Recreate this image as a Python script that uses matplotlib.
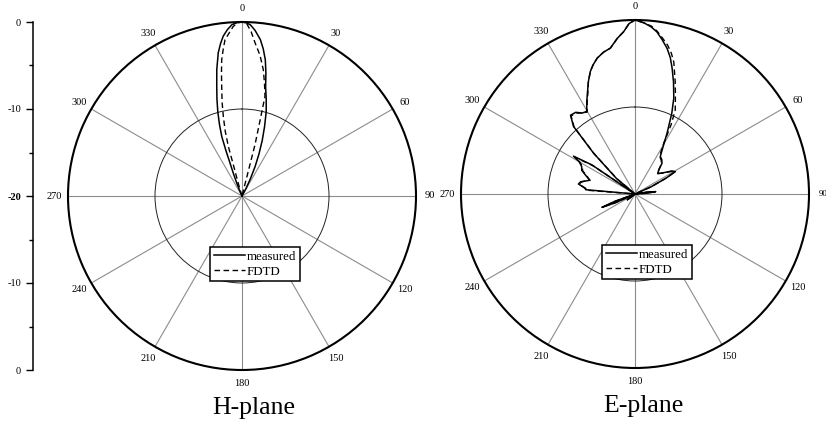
import numpy as np
import matplotlib.pyplot as plt

SERIF = 'Liberation Serif'

# H-plane (angle in degrees, clockwise from top; gain in dB)
h_meas_ang = [-180, -30, -24, -22, -21, -20, -19.5, -18.8, -17.5, -16, -14.5, -13, -11.3,
              -9.4, -8, -6.7, -5, -3.4, -1.5, 0, 1.5, 2.8, 4.5, 6.7, 8.2, 9.7, 11, 12.2,
              14, 16, 18, 20, 22, 24, 26, 28, 32, 180]
h_meas_db = [-20, -20, -19.5, -18.4, -17.3, -16, -14.5, -12.8, -11.4, -9.9, -8.5, -7.1, -5.2,
             -3.3, -2.3, -1.5, -0.8, -0.28, -0.05, 0, -0.1, -0.3, -0.9, -1.9, -2.9, -4.1, -5.6, -7.15,
             -8.5, -9.9, -11.6, -13.2, -14.8, -16.3, -17.8, -19, -20, -20]

h_fdtd_ang = [-180, -18, -16.5, -15.6, -15.4, -14.5, -13.2, -12, -10.5, -9.5, -8.5, -7.3,
              -6.2, -4.5, -3, -1.5, 0, 1.6, 3.2, 4.9, 7.3, 9.6, 11.3, 13, 13.5, 14.2, 16, 180]
h_fdtd_db = [-20, -20, -18.5, -16.9, -14.1, -12.3, -10.6, -9.0, -7.2, -5.7, -4.2, -3.0,
             -1.93, -1.2, -0.5, -0.1, 0, -0.2, -1.1, -2.35, -3.7, -5.3, -6.8, -8.25, -11.4, -13.9, -20, -20]

# E-plane
e_meas_ang = [-180, -131, -127, -122, -116, -114, -112, -110, -106,
              -86, -85, -83.5, -80, -77.3, -73, -70.2, -66, -62.7, -60, -58.4, -56, -53,
              -50, -45.4, -42.3, -39.3, -36, -33, -30.3, -27.5, -24.8, -22.5, -20, -18, -15.6,
              -12.5, -9.6, -6.5, -4, -2, 0,
              3, 5.5, 7.7, 10, 12.4, 14.5, 16.4, 19, 22, 24.5, 27.8, 31, 34, 38, 41.3, 44.6,
              48, 54, 58, 61, 63, 66, 70, 78, 81, 83.5, 86, 90, 180]
e_meas_db = [-20, -20, -18.9, -20, -20, -17.5, -15.9, -17.5, -20,
             -20, -14.3, -14.3, -13.4, -13.6, -14.6, -14.1, -13.3, -13.1, -12.6, -11.7, -14, -20,
             -17.2, -13.3, -9.5, -8.3, -8.4, -8.9, -9.0, -8.0, -7.0, -6.0, -5.0, -4.4, -3.8,
             -3.3, -3.0, -2.0, -1.3, -0.4, 0,
             -0.3, -0.7, -1.2, -2.0, -2.85, -3.8, -4.9, -6.4, -8.1, -9.8, -12.1, -13.8, -14.8, -15.0, -15.3, -16.1,
             -16.5, -15.8, -15, -14.7, -16, -18, -20, -20, -18.5, -17.6, -18.5, -20, -20]

e_fdtd_ang = [-180, -131, -127, -122, -116, -114, -112, -110, -106,
              -87, -85.5, -83.5, -80, -77.3, -73, -70.2, -66, -62.7, -60, -58.6, -56, -53,
              -50, -45.4, -42.3, -39.3, -36, -33, -30.3, -27.5, -24.8, -22.5, -20, -18, -15.6,
              -12.5, -9.6, -6.5, -4, -2, 0,
              3, 5.5, 7.7, 10, 12.4, 14.5, 16.4, 19.7, 22, 24, 25.6, 27.5, 29.5, 33, 38, 41.3, 44.6,
              48, 54, 58, 61, 63, 66, 70, 78, 81, 83.5, 86, 90, 180]
e_fdtd_db = [-20, -20, -19.0, -20, -20, -17.6, -16.1, -17.6, -20,
             -20, -14.4, -14.2, -13.5, -13.7, -14.5, -14.2, -13.4, -13.2, -12.7, -11.9, -14.2, -20,
             -17.3, -13.4, -9.6, -8.4, -8.5, -8.9, -9.1, -8.1, -7.1, -6.0, -5.0, -4.4, -3.8,
             -3.3, -3.0, -2.0, -1.3, -0.4, 0,
             -0.3, -0.6, -1.1, -1.8, -2.5, -3.3, -4.2, -6.3, -7.6, -8.6, -9.3, -11, -13.3, -14.8, -15.1, -15.4, -16.1,
             -16.5, -15.9, -15.1, -14.8, -16.1, -18, -20, -20, -18.6, -17.7, -18.6, -20, -20]

theta_labels = [str(a) for a in range(0, 360, 30)]
left_tick_labels = ['0', '-10', '-20', '-10', '0']

W, H = 826, 425
fig = plt.figure(figsize=(W / 100, H / 100), dpi=100)


def setup_polar(ax):
    ax.set_theta_zero_location('N')
    ax.set_theta_direction(-1)
    ax.set_ylim(-20, 0)
    ax.set_yticks([-10])
    ax.set_yticklabels([])
    ax.set_xticks(np.deg2rad(np.arange(0, 360, 30)))
    ax.set_xticklabels(theta_labels, fontsize=7.5, family=SERIF)
    ax.set_xticks(np.deg2rad([a for a in range(0, 360, 10) if a % 30]), minor=True)
    ax.xaxis.grid(True, which='major', color='#8c8c8c', lw=0.8)
    ax.yaxis.grid(True, color='#222222', lw=0.7)
    ax.tick_params(axis='x', which='both', direction='in', length=4, width=0.9,
                   pad=3, colors='black')
    ax.spines['polar'].set_linewidth(1.5)


def add_legend(ax, x0, y0):
    leg = ax.legend(loc='upper left', bbox_to_anchor=(x0 / W, 1 - y0 / H),
                    bbox_transform=fig.transFigure, borderaxespad=0,
                    prop={'family': SERIF, 'size': 9.3}, handlelength=2.4,
                    handletextpad=0.15, borderpad=0.3, labelspacing=0.2,
                    fancybox=False, framealpha=1, edgecolor='black')
    leg.get_frame().set_linewidth(1.1)


def clip(db):
    return np.maximum(np.array(db), -20)


# left plot
axh = fig.add_axes([68 / W, (H - 196 - 174) / H, 348 / W, 348 / H], projection='polar')
setup_polar(axh)
axh.plot(np.deg2rad(h_meas_ang), clip(h_meas_db), color='black', lw=1.1, label='measured')
axh.plot(np.deg2rad(h_fdtd_ang), clip(h_fdtd_db), color='black', lw=1.0,
         ls=(0, (4, 2.5)), label='FDTD')
add_legend(axh, 210, 247)

# right plot
axe = fig.add_axes([461 / W, (H - 194 - 174) / H, 348 / W, 348 / H], projection='polar')
setup_polar(axe)
axe.get_xticklabels()[3].set_fontsize(6.5)  # "90" sits right at the edge
axe.plot(np.deg2rad(e_meas_ang), clip(e_meas_db), color='black', lw=1.1, label='measured')
axe.plot(np.deg2rad(e_fdtd_ang), clip(e_fdtd_db), color='black', lw=1.0,
         ls=(0, (4, 2.5)), label='FDTD')
add_legend(axe, 602, 245)

# dB scale on the left
axs = fig.add_axes([33 / W, (H - 370) / H, 0.001, 348 / H])
axs.set_ylim(-20, 20)
axs.set_xticks([])
axs.set_yticks([20, 10, 0, -10, -20])
axs.set_yticklabels(left_tick_labels, fontsize=7.5, family=SERIF)
axs.get_yticklabels()[2].set_fontweight('bold')
axs.set_yticks([15, 5, -5, -15], minor=True)
axs.tick_params(axis='y', which='major', length=5, width=1)
axs.tick_params(axis='y', which='minor', length=3, width=1)
for s in ['top', 'right', 'bottom']:
    axs.spines[s].set_visible(False)
axs.spines['left'].set_linewidth(1.1)
axs.patch.set_visible(False)

fig.text(254 / W, 1 - 414 / H, 'H-plane', ha='center', va='baseline',
         fontsize=18.5, family=SERIF)
fig.text(643 / W, 1 - 412 / H, 'E-plane', ha='center', va='baseline',
         fontsize=18.5, family=SERIF)

fig.savefig('out.png', dpi=100)
